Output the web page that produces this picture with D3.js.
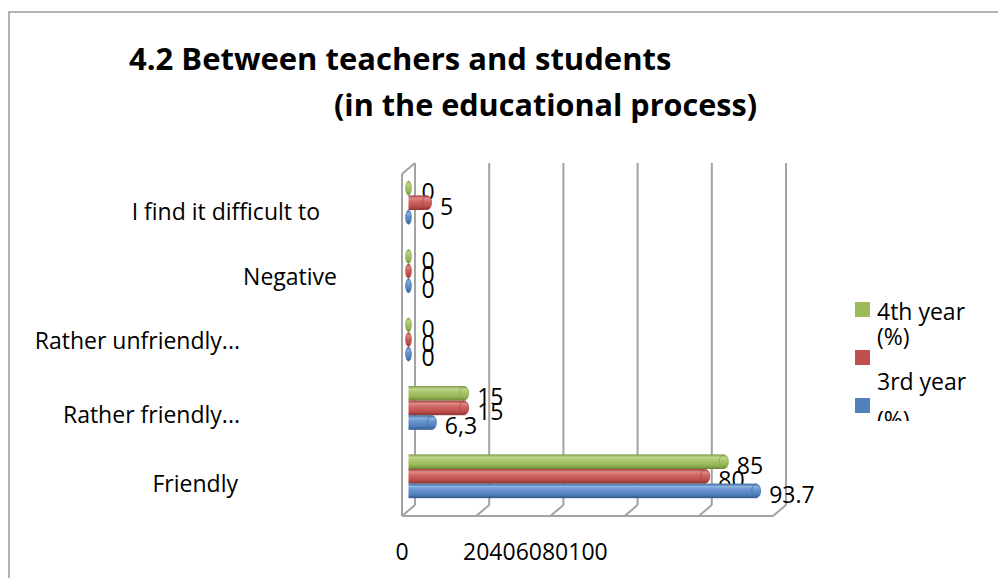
<!DOCTYPE html>
<html><head><meta charset="utf-8">
<script src="https://cdnjs.cloudflare.com/ajax/libs/d3/7.8.5/d3.min.js"></script>
<style>body{margin:0;background:#fff;}svg{display:block;}</style>
</head><body>
<svg id="chart" width="998" height="578"></svg>
<script>
// ---------- data ----------
const categories = ["I find it difficult to", "Negative", "Rather unfriendly...", "Rather friendly...", "Friendly"];
const year4 = [0, 0, 0, 15, 85];          // green
const seriesRed = [5, 0, 0, 15, 80];      // red
const year3 = [0, 0, 0, 6.3, 93.7];       // blue
const year3Labels = ["0", "0", "0", "6,3", "93.7"];
const xTicks = [0, 20, 40, 60, 80, 100];
const seriesNames = ["4th year (%)", "", "3rd year (%)"];
const titleLines = ["4.2 Between teachers and students", "(in the educational process)"];

// ---------- layout / style ----------
const FONT = "'Open Sans', sans-serif";
const W = 998, H = 578;
const back = { left: 415, right: 786, top: 163, bottom: 505 };
const depth = { dx: 13, dy: 11 };
const catRight = [320, 337, 240, 240, 238];
const catDy = [17, 14, 9, 15, 16];
const palette = {
  green: { base: "#9BBB59", stops: ["#7d9847", "#bdd68a", "#a9c66c", "#94b552", "#6b8637"], cap: "#87a84a" },
  red:   { base: "#C0504D", stops: ["#9c3e3b", "#df8a87", "#cf6663", "#bd4e4b", "#8c3431"], cap: "#ad4744" },
  blue:  { base: "#4F81BD", stops: ["#3c6699", "#8bb1e0", "#6993cf", "#4f80bd", "#335886"], cap: "#4573ab" }
};
const series = [
  { key: "green", name: seriesNames[0], values: year4, labels: year4.map(String) },
  { key: "red", name: seriesNames[1], values: seriesRed, labels: seriesRed.map(String) },
  { key: "blue", name: seriesNames[2], values: year3, labels: year3Labels }
];

const svg = d3.select("#chart");
const defs = svg.append("defs");
Object.entries(palette).forEach(([k, p]) => {
  const g = defs.append("linearGradient").attr("id", "grad-" + k)
    .attr("x1", 0).attr("y1", 0).attr("x2", 0).attr("y2", 1);
  [0, 0.2, 0.42, 0.75, 1].forEach((o, i) => g.append("stop").attr("offset", o).attr("stop-color", p.stops[i]));
});
defs.append("clipPath").attr("id", "legendClip").append("rect")
  .attr("x", 840).attr("y", 290).attr("width", 158).attr("height", 131);

// chart border
svg.append("rect").attr("x", 9).attr("y", 12).attr("width", W + 20).attr("height", H + 20)
  .attr("fill", "none").attr("stroke", "#8a8a8a").attr("stroke-width", 1.3);

// ---------- scales ----------
const xBack = d3.scaleLinear().domain([0, 100]).range([back.left, back.right]);
const xBar = v => xBack(v) - depth.dx / 2;
const yBand = d3.scaleBand().domain(categories)
  .range([back.top + depth.dy / 2, back.bottom + depth.dy / 2])
  .paddingInner(0.36).paddingOuter(0.18);
const ySeries = d3.scaleBand().domain(series.map(s => s.key)).range([0, yBand.bandwidth()]);

// ---------- walls and gridlines ----------
const lineCol = "#a3a3a3";
const grid = svg.append("g").attr("stroke", lineCol).attr("stroke-width", 2).attr("fill", "none");
grid.selectAll("line.g").data(xTicks).join("line").attr("class", "g")
  .attr("x1", d => xBack(d)).attr("x2", d => xBack(d))
  .attr("y1", back.top).attr("y2", back.bottom);
// floor tick diagonals
grid.selectAll("line.f").data(xTicks).join("line").attr("class", "f")
  .attr("x1", d => xBack(d) - depth.dx).attr("y1", back.bottom + depth.dy)
  .attr("x2", d => xBack(d)).attr("y2", back.bottom);
// floor front edge
grid.append("line").attr("x1", back.left - depth.dx).attr("x2", back.right - depth.dx)
  .attr("y1", back.bottom + depth.dy).attr("y2", back.bottom + depth.dy);
// left wall front edge and top
grid.append("line").attr("x1", back.left - depth.dx).attr("x2", back.left - depth.dx)
  .attr("y1", back.top + depth.dy).attr("y2", back.bottom + depth.dy);
grid.append("line").attr("x1", back.left - depth.dx).attr("y1", back.top + depth.dy)
  .attr("x2", back.left).attr("y2", back.top);

// ---------- bars ----------
const capRx = 4.5;
const barsG = svg.append("g");
series.forEach(s => {
  const g = barsG.append("g");
  const data = categories.map((c, i) => ({ c, v: s.values[i], label: s.labels[i] }));
  const h = ySeries.bandwidth();
  g.selectAll("rect").data(data).join("rect")
    .attr("x", xBar(0)).attr("width", d => xBar(d.v) - xBar(0))
    .attr("y", d => yBand(d.c) + ySeries(s.key)).attr("height", h)
    .attr("fill", `url(#grad-${s.key})`);
  g.selectAll("ellipse").data(data).join("ellipse")
    .attr("cx", d => xBar(d.v)).attr("cy", d => yBand(d.c) + ySeries(s.key) + h / 2)
    .attr("rx", d => d.v === 0 ? 2.8 : capRx).attr("ry", h / 2 - 0.3)
    .attr("fill", `url(#grad-${s.key})`).attr("stroke", palette[s.key].cap).attr("stroke-width", 0.8);
  g.selectAll("text").data(data).join("text")
    .attr("x", d => xBar(d.v) + 13)
    .attr("y", d => yBand(d.c) + ySeries(s.key) + h / 2 + 12)
    .attr("font-family", FONT).attr("font-size", 23).attr("fill", "#000")
    .text(d => d.label);
});

// ---------- category axis ----------
const yAxisScale = d3.scaleBand().domain(categories).range(yBand.range()).paddingInner(0.36).paddingOuter(0.18);
const yAx = svg.append("g").call(d3.axisLeft(yAxisScale).tickSize(0));
yAx.select(".domain").remove();
yAx.selectAll(".tick text")
  .attr("font-family", FONT).attr("font-size", 23).attr("fill", "#000")
  .attr("text-anchor", "end").attr("dy", null)
  .attr("x", (d, i) => catRight[i])
  .attr("y", (d, i) => catDy[i]);

// ---------- value axis labels ----------
const xAx = svg.append("g").attr("transform", `translate(${-depth.dx},560)`)
  .call(d3.axisBottom(xBack).tickValues(xTicks).tickSize(0).tickFormat(d3.format("d")));
xAx.select(".domain").remove();
let run = 463 + depth.dx;
xAx.selectAll(".tick").attr("transform", null);
xAx.selectAll(".tick text")
  .attr("font-family", FONT).attr("font-size", 23).attr("fill", "#000").attr("dy", null).attr("y", 0)
  .each(function (d, i) {
    const t = d3.select(this);
    if (i === 0) { t.attr("text-anchor", "middle").attr("x", xBack(d)); }
    else { t.attr("text-anchor", "start").attr("x", run); run += this.getComputedTextLength(); }
  });

// ---------- title ----------
svg.append("text").attr("x", 129).attr("y", 70).attr("font-family", FONT).attr("font-weight", "bold")
  .attr("font-size", 31).attr("fill", "#000").text(titleLines[0]);
svg.append("text").attr("x", 334).attr("y", 116).attr("font-family", FONT).attr("font-weight", "bold")
  .attr("font-size", 30.6).attr("fill", "#000").text(titleLines[1]);

// ---------- legend ----------
const lg = svg.append("g").attr("clip-path", "url(#legendClip)");
const legendKeyY = d3.scalePoint().domain(series.map(s => s.key)).range([302, 398]);
lg.selectAll("rect").data(series).join("rect")
  .attr("x", 855).attr("y", d => legendKeyY(d.key)).attr("width", 15).attr("height", 15)
  .attr("fill", d => palette[d.key].base);
const legendTextY = { green: 320, red: null, blue: 390 };
series.forEach(s => {
  if (!s.name) return;
  const parts = s.name.split(" (");
  const t = lg.append("text").attr("font-family", FONT).attr("font-size", 23).attr("fill", "#000");
  t.append("tspan").attr("x", 877).attr("y", legendTextY[s.key]).text(parts[0]);
  t.append("tspan").attr("x", 877).attr("y", legendTextY[s.key] + (s.key === "green" ? 25 : 38)).text("(" + parts[1]);
});
</script>
</body></html>
